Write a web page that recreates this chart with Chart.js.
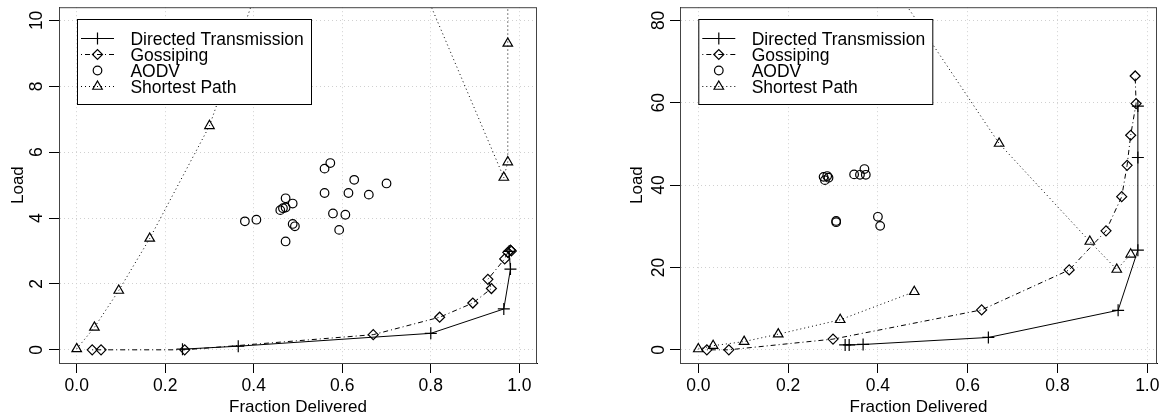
<!DOCTYPE html>
<html>
<head>
<meta charset="utf-8">
<script src="https://cdn.jsdelivr.net/npm/chart.js@4.4.1/dist/chart.umd.min.js"></script>
<style>
  html, body { margin: 0; padding: 0; background: #fff; }
  #wrap { position: relative; width: 1166px; height: 420px; }
  canvas { position: absolute; top: 0; }
</style>
</head>
<body>
<div id="wrap">
  <canvas id="leftChart" width="583" height="420" style="left:0"></canvas>
  <canvas id="rightChart" width="583" height="420" style="left:583px"></canvas>
</div>
<script>
// ─── Data ────────────────────────────────────────────────────────────────
const seriesNames = ['Directed Transmission', 'Gossiping', 'AODV', 'Shortest Path'];
const xTicks = [0, 0.2, 0.4, 0.6, 0.8, 1.0];
const xTickLabels = ['0.0', '0.2', '0.4', '0.6', '0.8', '1.0'];
const leftYTicks = [0, 2, 4, 6, 8, 10];
const rightYTicks = [0, 20, 40, 60, 80];

// left panel
const dtLeftX = [0.239, 0.365, 0.800, 0.965, 0.980, 0.977];
const dtLeftY = [0.02, 0.11, 0.50, 1.24, 2.45, 2.99];
const gsLeftX = [0.035, 0.055, 0.244, 0.670, 0.820, 0.895, 0.937, 0.929, 0.967, 0.974, 0.980, 0.982];
const gsLeftY = [0.00, 0.00, 0.00, 0.46, 0.99, 1.42, 1.86, 2.14, 2.76, 2.96, 3.03, 3.00];
const aoLeftX = [0.380, 0.406, 0.460, 0.466, 0.472, 0.472, 0.488, 0.488, 0.493, 0.472,
                 0.560, 0.573, 0.560, 0.579, 0.593, 0.607, 0.614, 0.627, 0.660, 0.700];
const aoLeftY = [3.90, 3.95, 4.24, 4.30, 4.32, 4.60, 4.44, 3.82, 3.75, 3.29,
                 5.50, 5.67, 4.76, 4.14, 3.64, 4.10, 4.76, 5.16, 4.71, 5.05];
const spLeftX = [0.000, 0.040, 0.095, 0.165, 0.300, 0.577, 0.965, 0.974, 0.974, 0.974];
const spLeftY = [0.03, 0.68, 1.80, 3.38, 6.80, 17.5, 5.23, 5.70, 9.30, 15.0];

// right panel
const dtRightX = [0.327, 0.336, 0.367, 0.646, 0.935, 0.979, 0.979, 0.979];
const dtRightY = [1.2, 1.2, 1.3, 3.0, 9.6, 24.2, 46.7, 59.2];
const gsRightX = [0.019, 0.068, 0.300, 0.631, 0.826, 0.908, 0.943, 0.955, 0.963, 0.975, 0.973];
const gsRightY = [0.0, 0.0, 2.6, 9.7, 19.4, 28.9, 37.2, 44.8, 52.1, 59.8, 66.5];
const aoRightX = [0.279, 0.287, 0.290, 0.282, 0.347, 0.360, 0.370, 0.373, 0.307, 0.307, 0.400, 0.405];
const aoRightY = [42.0, 42.2, 41.8, 41.2, 42.6, 42.5, 43.9, 42.5, 31.3, 31.0, 32.3, 30.1];
const spRightX = [0.000, 0.033, 0.102, 0.178, 0.316, 0.481, 0.481, 0.400, 0.670, 0.872, 0.932, 0.963];
const spRightY = [0.2, 1.0, 2.0, 3.8, 7.3, 14.1, null, 94.0, 50.1, 26.3, 19.5, 23.2];

// ─── Styles ──────────────────────────────────────────────────────────────
const FONT = 'Liberation Sans, Arial, Helvetica, sans-serif';
const seriesStyle = [
  { pointStyle: 'cross',    radius: 6,   dash: [],           line: true  },
  { pointStyle: 'rectRot',  radius: 5,   dash: [1, 3, 5, 3], line: true  },
  { pointStyle: 'circle',   radius: 4.3, dash: [],           line: false },
  { pointStyle: 'triangle', radius: 5.5, dash: [1, 3],       line: true  },
];

function zipXY(xs, ys) {
  return xs.map((x, i) => ({ x, y: ys[i] }));
}

function makeDatasets(series) {
  return series.map(([xs, ys], i) => {
    const s = seriesStyle[i];
    return {
      label: seriesNames[i],
      data: zipXY(xs, ys),
      showLine: s.line,
      borderColor: '#000',
      borderWidth: 1,
      borderDash: s.dash,
      pointStyle: s.pointStyle,
      pointRadius: s.radius,
      pointBorderWidth: 1.2,
      pointBorderColor: '#000',
      pointBackgroundColor: 'rgba(0,0,0,0)',
      backgroundColor: 'rgba(0,0,0,0)',
      spanGaps: false,
    };
  });
}

// ─── Frame + R-style legend plugin ───────────────────────────────────────
const frameLegend = {
  id: 'frameLegend',
  afterDatasetsDraw(chart, args, opts) {
    const { ctx, chartArea: a } = chart;
    ctx.save();
    ctx.strokeStyle = '#444';
    ctx.lineWidth = 1;
    ctx.strokeRect(a.left + 0.5, a.top + 0.5, a.right - a.left - 1, a.bottom - a.top);

    const lx = opts.left, ly = 19.5, w = 234, h = 85;
    ctx.fillStyle = '#fff';
    ctx.fillRect(lx, ly, w, h);
    ctx.strokeStyle = '#000';
    ctx.strokeRect(lx + 0.5, ly, w, h);

    ctx.font = '17.5px ' + FONT;
    ctx.textBaseline = 'alphabetic';
    ctx.textAlign = 'left';
    seriesNames.forEach((name, i) => {
      const s = seriesStyle[i];
      const cy = 38.5 + 16 * i;
      ctx.strokeStyle = '#000';
      ctx.lineWidth = 1;
      if (s.line) {
        ctx.save();
        ctx.setLineDash(s.dash);
        ctx.beginPath();
        ctx.moveTo(lx + 4, cy);
        ctx.lineTo(lx + 37, cy);
        ctx.stroke();
        ctx.restore();
      }
      ctx.fillStyle = 'rgba(0,0,0,0)';
      ctx.lineWidth = 1.2;
      Chart.helpers.drawPoint(ctx, {
        pointStyle: s.pointStyle, rotation: 0, radius: s.radius, borderWidth: 1.2,
      }, lx + 20.5, cy);
      ctx.fillStyle = '#000';
      ctx.fillText(name, lx + 53.4, 44.5 + 16 * i);
    });
    ctx.restore();
  }
};

// ─── Chart builder ───────────────────────────────────────────────────────
function makeChart(canvasId, series, p) {
  const tickFont = { family: FONT, size: 17.5 };
  const titleFont = { family: FONT, size: 17 };
  return new Chart(document.getElementById(canvasId), {
    type: 'scatter',
    data: { datasets: makeDatasets(series) },
    options: {
      responsive: false,
      animation: false,
      events: [],
      layout: { padding: { left: 0, top: 6, right: p.padRight, bottom: 0 } },
      plugins: {
        legend: { display: false },
        tooltip: { enabled: false },
        frameLegend: { left: p.legendLeft },
      },
      scales: {
        x: {
          type: 'linear', min: p.xMin, max: p.xMax,
          afterBuildTicks: s => { s.ticks = xTicks.map(v => ({ value: v })); },
          afterFit: s => { s.height = 57; s.paddingLeft = 0; s.paddingRight = 0; },
          ticks: { color: '#000', font: tickFont, padding: 3, maxRotation: 0, autoSkip: false,
                   callback: (v, i) => xTickLabels[i] },
          grid: { color: '#d0d0d0', tickColor: '#000', tickLength: 10, tickBorderDash: [] },
          border: { color: '#000', width: 1, dash: [1, 3] },
          title: { display: true, text: 'Fraction Delivered', color: '#000', font: titleFont,
                   padding: { top: 0, bottom: 2 } },
        },
        y: {
          type: 'linear', min: p.yMin, max: p.yMax,
          afterBuildTicks: s => { s.ticks = p.yTicks.map(v => ({ value: v })); },
          afterFit: s => { s.width = p.yWidth; s.paddingTop = 0; s.paddingBottom = 0; },
          ticks: { color: '#000', font: tickFont, padding: p.yLabelPad, minRotation: 90, maxRotation: 90,
                   crossAlign: 'center', autoSkip: false, callback: v => String(v) },
          grid: { color: '#d0d0d0', tickColor: '#000', tickLength: 10, tickBorderDash: [] },
          border: { color: '#000', width: 1, dash: [1, 3] },
          title: { display: true, text: 'Load', color: '#000', font: titleFont,
                   padding: { top: p.yTitlePad, bottom: 0 } },
        },
      },
    },
    plugins: [frameLegend],
  });
}

makeChart('leftChart',
  [[dtLeftX, dtLeftY], [gsLeftX, gsLeftY], [aoLeftX, aoLeftY], [spLeftX, spLeftY]],
  { xMin: -0.04, xMax: 1.04, yMin: -0.4, yMax: 10.4, yTicks: leftYTicks,
    yWidth: 59, padRight: 46, legendLeft: 77, yLabelPad: 2, yTitlePad: 8 });

makeChart('rightChart',
  [[dtRightX, dtRightY], [gsRightX, gsRightY], [aoRightX, aoRightY], [spRightX, spRightY]],
  { xMin: -0.0408, xMax: 1.0216, yMin: -3.2, yMax: 83.2, yTicks: rightYTicks,
    yWidth: 97, padRight: 9, legendLeft: 115.3, yLabelPad: 1, yTitlePad: 44 });
</script>
</body>
</html>
